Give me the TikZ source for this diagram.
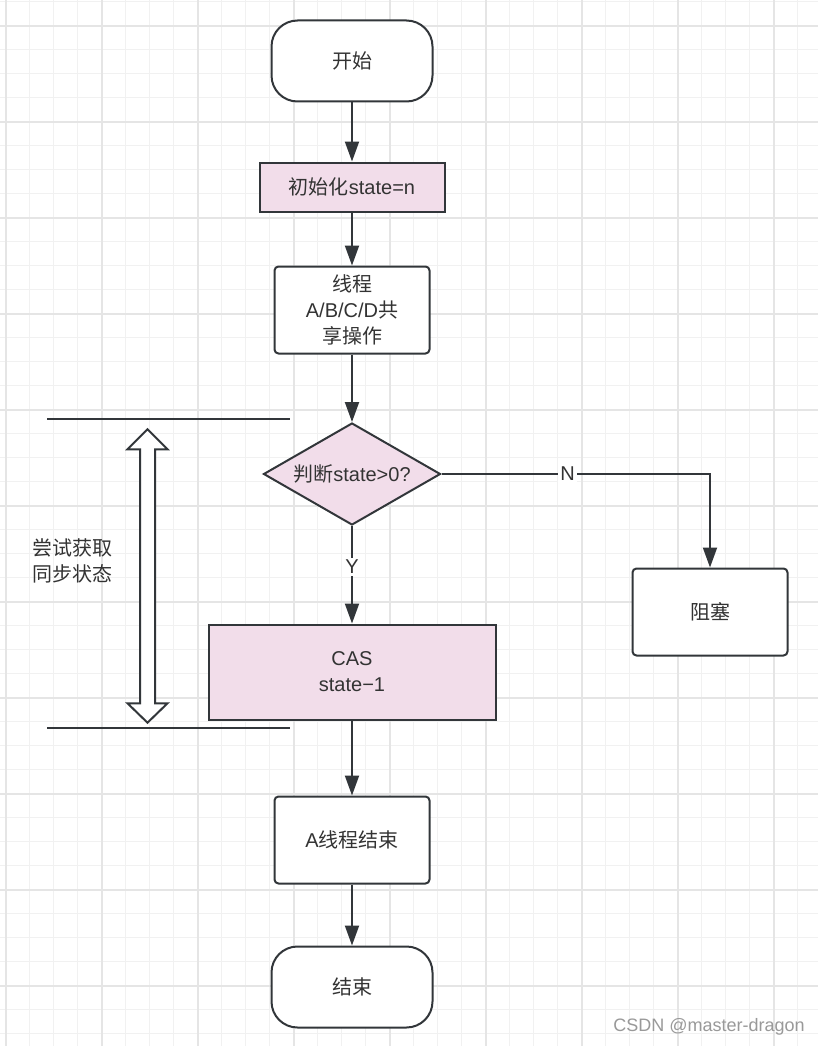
\documentclass[tikz,border=0pt]{standalone}
\usepackage{fontspec}
\setmainfont{Liberation Sans}
\newfontfamily\cjk{Noto Sans CJK SC}
\usetikzlibrary{shapes.geometric,arrows.meta}
\definecolor{linecol}{RGB}{50,54,58}
\definecolor{pinkfill}{RGB}{242,221,234}
\definecolor{textcol}{RGB}{51,51,51}
\definecolor{gridminor}{RGB}{241,241,241}
\definecolor{gridmajor}{RGB}{229,229,229}

\begin{document}
\begin{tikzpicture}[x=1pt,y=-1pt,
  every node/.style={font=\fontsize{20}{26}\selectfont, text=textcol},
  terminal/.style={draw=linecol, line width=2pt, fill=white, rounded corners=26pt, minimum width=161pt, minimum height=81pt},
  process/.style={draw=linecol, line width=2pt, fill=white, rounded corners=4pt, minimum width=155pt, minimum height=87pt, inner sep=0pt, align=center},
  pinkbox/.style={draw=linecol, line width=2pt, fill=pinkfill, inner sep=0pt, align=center},
  decision/.style={draw=linecol, line width=2pt, fill=pinkfill, diamond, aspect=1.735, inner sep=0pt, minimum width=177pt, minimum height=102pt},
  flow/.style={draw=linecol, line width=2pt, -{Triangle[length=20pt,width=14pt]}},
  lbl/.style={fill=white, inner sep=2pt}]

\useasboundingbox (0,0) rectangle (818,1046);
\fill[white] (0,0) rectangle (818,1046);

%grid
\foreach \i in {0,...,34} \draw[gridminor, line width=1.5pt] (5.7+24*\i,0) -- (5.7+24*\i,1046);
\foreach \i in {0,...,43} \draw[gridminor, line width=1.5pt] (0,1.7+24*\i) -- (818,1.7+24*\i);
\foreach \i in {0,...,8} \draw[gridmajor, line width=1.8pt] (5.7+96*\i,0) -- (5.7+96*\i,1046);
\foreach \i in {0,...,10} \draw[gridmajor, line width=1.8pt] (0,25.7+96*\i) -- (818,25.7+96*\i);

%steps
\node[terminal] (start) at (352,61) {\cjk 开始};
\node[pinkbox, minimum width=185pt, minimum height=49pt] (init) at (352,187) {{\cjk 初始化}state=n};
\node[process] (share) at (352,310) {{\cjk 线程}\\A/B/C/D{\cjk 共}\\{\cjk 享操作}};
\node[decision] (judge) at (352,474) {{\cjk 判断}state>0?};
\node[process] (block) at (710,612) {\cjk 阻塞};
\node[pinkbox, minimum width=287pt, minimum height=95pt] (cas) at (352,672) {CAS\\state−1};
\node[process] (finish) at (352,840) {A{\cjk 线程结束}};
\node[terminal] (end) at (352,987) {\cjk 结束};

%arrows
\draw[flow] (start) -- (init);
\draw[flow] (init) -- (share);
\draw[flow] (share) -- (judge);
\draw[flow] (judge) -- node[lbl, pos=0.42] (yes) {Y} (cas);
\draw[flow] (judge.east) -| node[lbl, pos=0.235] (no) {N} (block.north);
\draw[flow] (cas) -- (finish);
\draw[flow] (finish) -- (end);

%range of the sync step
\draw[linecol, line width=2pt] (47,419) -- (290,419);
\draw[linecol, line width=2pt] (47,728) -- (290,728);
\draw[linecol, line width=2pt, fill=white, line join=miter]
  (147.5,429.3) -- (167.5,449.3) -- (155,449.3) -- (155,703.3) -- (167.5,703.3)
  -- (147.5,722.7) -- (127.5,703.3) -- (140,703.3) -- (140,449.3) -- (127.5,449.3) -- cycle;
\node[align=left] (sync) at (72,561) {{\cjk 尝试获取}\\{\cjk 同步状态}};

%watermark
\node[font=\fontsize{18}{20}\selectfont, text=black!40] (mark) at (709,1027) {CSDN @master-dragon};

\end{tikzpicture}
\end{document}
